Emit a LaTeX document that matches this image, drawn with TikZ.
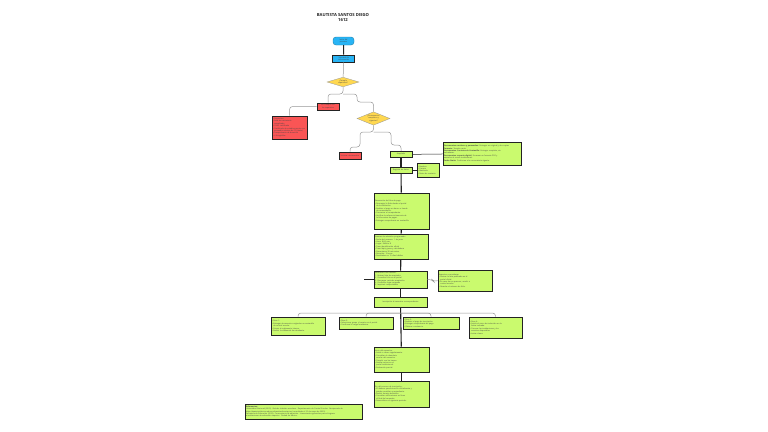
\documentclass[tikz,border=0pt]{standalone}
\usepackage{fontspec}
\setmainfont{Open Sans}
\usepackage{tikz}
\usetikzlibrary{shapes.geometric, arrows.meta, positioning, calc}
\definecolor{mydark}{RGB}{35,35,35}
\definecolor{mygray}{RGB}{150,150,150}
\definecolor{mygreen}{RGB}{202,250,110}
\definecolor{myred}{RGB}{250,85,85}
\definecolor{myyellow}{RGB}{255,216,80}
\definecolor{myblue}{RGB}{40,180,245}
\definecolor{mytext}{RGB}{70,70,70}
\newcommand{\minifont}{\fontsize{1.9}{2.4}\selectfont}
\newcommand{\bul}{\textbullet\ }
\newcommand{\ind}{\phantom{\textbullet\ }}
\tikzset{
  gbox/.style={rectangle, draw=mydark, fill=mygreen, text width=#1,
    align=left, font=\minifont, text=mytext, inner sep=1pt, line width=0.8pt},
  rbox/.style={rectangle, draw=mydark, fill=myred, text width=#1,
    align=left, font=\minifont, text=mytext, inner sep=1pt, line width=0.8pt},
  bbox/.style={rectangle, draw=mydark, fill=myblue, text width=#1,
    align=center, font=\minifont, text=mytext, inner sep=1pt, line width=0.9pt},
  decision/.style={diamond, draw=mygray, fill=myyellow, aspect=1.8,
    minimum width=#1, inner sep=0pt, align=center, font=\minifont, text=mytext, line width=0.3pt},
  mainline/.style={line width=1.1pt, color=mydark},
  thinline/.style={line width=0.5pt, color=mydark},
  gline/.style={line width=0.5pt, color=mygray, rounded corners=3pt}
}
\begin{document}
\begin{tikzpicture}[x=1pt, y=-1pt]
  \useasboundingbox (0,0) rectangle (768,431);

  % Title
  \node[font=\fontsize{4.2}{5}\selectfont\bfseries, text=mydark, align=center] (title) at (343,17.5)
    {BAUTISTA SANTOS DIEGO\\1612};

  % Start and first process
  \node[rectangle, rounded corners=3pt, draw=myblue!70!black, fill=myblue, line width=0.4pt,
    minimum width=21pt, minimum height=8pt, inner sep=0pt, font=\minifont, text=mytext, align=center]
    (start) at (343.5,41) {Inicio del\\proceso};
  \node[bbox=20pt, minimum height=7pt] (proc) at (343.7,58.5) {Solicitud de\\informaci\'on};

  % Decisions
  \node[decision=32pt] (dec1) at (343,82) {\textquestiondown Cumple\\requisitos?};
  \node[decision=33pt] (dec2) at (373.5,118.5) {\textquestiondown Documentos\\completos y\\vigentes?};

  % Red branches
  \node[rbox=20pt, minimum height=7pt, align=center] (red1) at (328,106.5) {No cumple con\\los requisitos};
  \node[rbox=33pt, minimum height=23pt] (redlist) at (289.5,127.5)
    {\bul Requisitos:\\
     \bul Acta de nacimiento\\
     \ind actualizada\\
     \bul CURP certificada\\
     \bul Certificado de estudios previo con\\
     \ind promedio m\'inimo de 7.0 (siete)\\
     \bul Comprobante de domicilio\\
     \bul 4 fotograf\'ias};
  \node[rbox=20pt, minimum height=7pt, align=center] (red2) at (350,155.5) {Solicitar documentos};

  % Green column
  \node[gbox=20pt, minimum height=6pt, align=center] (acc) at (401,154.5) {Aceptado};
  \node[gbox=76pt, minimum height=23pt] (note1) at (482,153.5)
    {\textbf{Documentos escolares y personales:} Entregar en original y dos copias\\
     \textbf{Formato:} Tama\~no carta.\\
     \textbf{Documentos: Servicios de Ventanilla:} Entregar completo, sin\\
     tachaduras.\\
     \textbf{Documentos: soporte digital:} Escanear en formato PDF y\\
     enviarlos al correo institucional.\\
     \textbf{Fecha l\'imite:} Conforme a la convocatoria vigente.};
  \node[gbox=20pt, minimum height=6pt, align=center] (reg) at (401,170) {Registro de datos};
  \node[gbox=20pt, minimum height=14pt] (note2) at (428,170)
    {\bul Nombre\\\bul Carrera\\\bul Matr\'icula\\\bul Datos de contacto};

  \node[gbox=53pt, minimum height=36pt] (pay) at (401.5,211)
    {Generaci\'on de ficha de pago\\
     \bul Descargar la ficha desde el portal\\
     \ind de la instituci\'on.\\
     \bul Realizar el pago en banco o tienda\\
     \ind de conveniencia.\\
     \bul Conservar el comprobante.\\
     \bul Verificar la referencia bancaria de\\
     \ind la ficha antes de pagar.\\
     \bul Entregar comprobante en ventanilla.};
  \node[gbox=52pt, minimum height=25pt] (exam) at (401,246.5)
    {Examen de admisi\'on programado\\
     \bul Fecha del examen: 1 de junio\\
     \bul Hora: 8:00 a.m.\\
     \bul Lugar: Edificio B\\
     \bul Traer identificaci\'on oficial\\
     \bul Traer l\'apiz, goma y calculadora\\
     \bul Presentarse 30 min antes\\
     \bul Duraci\'on: 3 horas\\
     \bul Resultados en 15 d\'ias h\'abiles};
  \node[gbox=51pt, minimum height=17pt] (res) at (400.5,279.5)
    {Resultados del examen:\\
     1. Revisar lista de aceptados\\
     2. Consultar folio en el portal\\
     3. Descargar carta de aceptaci\'on\\
     4. Confirmar lugar asignado\\
     5. Imprimir comprobante};
  \node[gbox=52pt, minimum height=21pt] (note3) at (465,280.5)
    {Aspectos a considerar:\\
     \bul Revisar la lista publicada en el\\
     \ind portal oficial.\\
     \bul En caso de no aparecer, acudir a\\
     \ind control escolar.\\
     \bul Guardar el n\'umero de folio.};
  \node[gbox=51pt, minimum height=10pt, align=center] (insc) at (400.5,302)
    {Inscripci\'on al semestre correspondiente};

  % Branches
  \node[gbox=52pt, minimum height=18pt] (opa) at (298,326)
    {\bul Paso 1:\\
     \bul Entregar documentos originales en ventanilla\\
     \ind de control escolar.\\
     \bul Firmar el reglamento interno.\\
     \bul Recibir la credencial de estudiante.};
  \node[gbox=52pt, minimum height=12pt] (opb) at (366,323)
    {\bul Paso 2:\\
     \bul Seleccionar grupo y horario en el portal.\\
     \bul Confirmar la carga acad\'emica.};
  \node[gbox=54pt, minimum height=12pt] (opc) at (431,323)
    {\bul Paso 3:\\
     \bul Realizar el pago de inscripci\'on.\\
     \bul Entregar comprobante de pago.\\
     \bul Obtener constancia.};
  \node[gbox=51pt, minimum height=21pt] (opd) at (495.5,327.5)
    {\bul Paso 4:\\
     \bul Asistir al curso de inducci\'on en la\\
     \ind fecha indicada.\\
     \bul Conocer las instalaciones y los\\
     \ind servicios disponibles.\\
     \bul Iniciar clases.};

  \node[gbox=53pt, minimum height=25pt] (start2) at (401.5,359.5)
    {Inicio del semestre:\\
     \bul Asistir a clases regularmente.\\
     \bul Consultar el calendario\\
     \ind escolar del semestre.\\
     \bul Cumplir con las tareas.\\
     \bul Revisar avisos en el\\
     \ind portal institucional.\\
     \bul Evaluaci\'on parcial.};
  \node[gbox=53pt, minimum height=26pt] (endn) at (401.5,394)
    {Fin del proceso de inscripci\'on:\\
     \bul El alumno queda inscrito oficialmente y\\
     \ind puede consultar su expediente.\\
     \bul Recibir horario definitivo.\\
     \bul Consultar calificaciones en l\'inea\\
     \ind al final del semestre.\\
     \bul Reinscribirse al siguiente periodo.};

  \node[gbox=115pt, minimum height=15pt] (refs) at (303.5,411.5)
    {\textbf{Referencias:}\\
     Universidad Nacional (2023). Gu\'ia de tr\'amites escolares. Departamento de Control Escolar. Recuperado de\\
     https://www.institucion.edu.mx/tramites/inscripcion (consultado el 10 de mayo de 2023).\\
     Secretar\'ia de Educaci\'on (2022). Convocatoria de admisi\'on. Lineamientos generales para el ingreso\\
     a instituciones de educaci\'on superior. Ciudad de M\'exico.};

  % Connections
  \draw[mainline] (start) -- (proc);
  \draw[gline] (proc) -- (dec1);
  \draw[gline] (dec1.south) -- (343,94) -| (red1.north);
  \draw[gline] (343,94) -- (357,94) -- (357,102) -- (373.5,102) -- (dec2.north);
  \draw[gline] (red1.west) -| (redlist.north);
  \draw[gline] (dec2.south) -- (373.5,132) -- (360,132) -- (360,147) -- (350,147) -- (red2.north);
  \draw[gline] (373.5,132) -- (391,132) -- (391,145) -- (401,145) -- (acc.north);
  \draw[thinline] (acc) -- (note1);
  \draw[mainline] (acc) -- (reg);
  \draw[thinline] (reg) -- (note2);
  \draw[mainline] (reg) -- (pay);
  \draw[mainline] (pay) -- (exam);
  \draw[mainline] (exam) -- (res);
  \coordinate (stub) at (364,279.5);
  \draw[mainline] (stub) -- (res);
  \draw[gline] (res.east) -- (432,279.5) -- (434,282) -- (note3.west);
  \draw[mainline] (res) -- (insc);
  \draw[mainline] (insc) -- (start2);
  \draw[mainline] (start2) -- (endn);
  \coordinate (fork) at (401,313);
  \draw[gline] (fork) -| (opa.north);
  \draw[gline] (fork) -| (opb.north);
  \draw[gline] (fork) -| (opc.north);
  \draw[gline] (fork) -| (opd.north);
\end{tikzpicture}
\end{document}
